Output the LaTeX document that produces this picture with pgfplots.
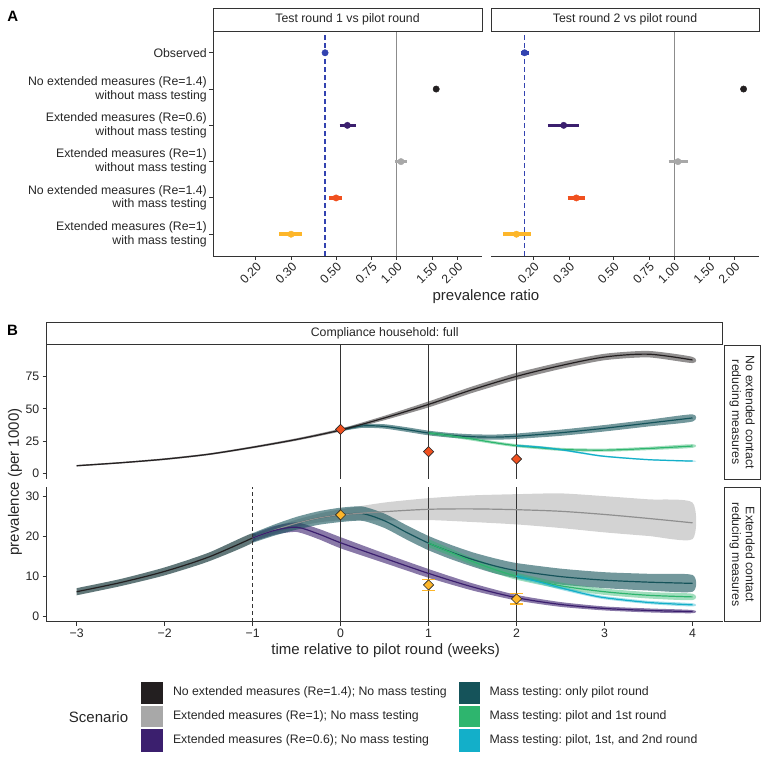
\documentclass[border=0pt]{standalone}
\usepackage{pgfplots}
\pgfplotsset{compat=1.18}
\usepackage{pgfplotstable}
\usepackage{fontspec}
\setmainfont{Liberation Sans}
\frenchspacing

\definecolor{cBlack}{HTML}{231F20}
\definecolor{cGray}{HTML}{A8A8A8}
\definecolor{cPurple}{HTML}{3B1F6E}
\definecolor{cTeal}{HTML}{15535A}
\definecolor{cGreen}{HTML}{2EB56E}
\definecolor{cCyan}{HTML}{13AFC9}
\definecolor{cObs}{HTML}{3343B0}
\definecolor{cRed}{HTML}{F0501F}
\definecolor{cYellow}{HTML}{FDB62A}
\definecolor{cAxis}{HTML}{333333}
\definecolor{cText}{HTML}{262626}

\newcommand\fs{\fontsize{12.3bp}{13.7bp}\selectfont}
\newcommand\ft{\fontsize{15bp}{17bp}\selectfont}

%% panel B centre lines
\pgfplotstableread{
t y
-3 5.9
-2.5 8.2
-2 11.0
-1.5 14.8
-1 20.2
-0.5 26.3
0 33.6
0.5 43.0
1 53.5
1.5 65.0
2 75.3
2.5 83.6
3 90.3
3.5 92.5
4 88.0
}\upBlack
\pgfplotstableread{
t y
0 33.6
0.25 36.8
0.5 36.4
0.75 34.0
1 31.3
1.25 29.5
1.5 28.4
1.75 28.1
2 28.8
2.5 31.5
3 35.0
3.5 39.0
4 43.0
}\upTeal
\pgfplotstableread{
t y
1 31.3
1.25 29.2
1.5 26.6
1.75 23.8
2 21.5
2.5 18.6
3 18.0
3.5 19.3
4 21.2
}\upGreen
\pgfplotstableread{
t y
2 21.5
2.25 20.4
2.5 18.4
2.75 15.7
3 13.2
3.5 10.6
4 9.5
}\upCyan
\pgfplotstableread{
t y
-3 6.1
-2.5 8.4
-2 11.2
-1.5 14.8
-1 19.6
}\loBlack
\pgfplotstableread{
t y
-1 19.6
-0.75 21.6
-0.5 23.3
-0.25 24.6
0 25.4
0.5 26.2
1 26.8
1.5 26.9
2 26.7
2.5 26.3
3 25.5
3.5 24.5
4 23.4
}\loGray
\pgfplotstableread{
t y
-1 19.6
-0.75 21.5
-0.5 22.3
-0.25 20.6
0 18.4
0.5 14.5
1 10.7
1.5 7.3
2 4.6
2.5 2.9
3 1.9
3.5 1.4
4 1.1
}\loPurple
\pgfplotstableread{
t y
-1 19.6
-0.75 21.6
-0.5 23.3
-0.25 24.6
0 25.4
0.25 25.7
0.5 23.9
0.75 21.0
1 18.3
1.25 16.1
1.5 14.2
1.75 12.6
2 11.4
2.5 9.9
3 9.0
3.5 8.5
4 8.2
}\loTeal
\pgfplotstableread{
t y
1 18.3
1.25 16.0
1.5 13.7
1.75 11.7
2 10.0
2.5 7.6
3 6.1
3.5 5.2
4 4.8
}\loGreen
\pgfplotstableread{
t y
2 10.0
2.25 8.6
2.5 7.1
2.75 5.7
3 4.6
3.5 3.4
4 2.8
}\loCyan

\pgfplotsset{
  gg/.style={
    scale only axis, anchor=south west,
    axis line style={-, line width=0.9bp, draw=cAxis},
    tick style={line width=0.9bp, draw=cAxis},
    minor tick style={draw=none},
    tick align=outside, major tick length=4bp,
    tick label style={font=\fs, text=cText},
    enlargelimits=false, tick pos=left,
  },
}
% band polygon: colour, opacity, upper edge forward then lower edge back
\newcommand\band[3]{%
  \addplot[fill=#1, fill opacity=#2, draw=none, smooth, tension=0.4, forget plot] coordinates {#3} -- cycle;
}
\newcommand\curve[2]{%
  \addplot[#2, line width=1.2bp, smooth] table[x=t,y=y]{#1};
}
\newcommand\row[5]{% y, lo, mid, hi, colour
  \addplot[#5, line width=3.5bp] coordinates {(#2,#1) (#4,#1)};
  \addplot[only marks, mark=*, mark size=3.2bp, #5] coordinates {(#3,#1)};
}

\begin{document}
\begin{tikzpicture}
\path[use as bounding box] (0bp,0bp) rectangle (768bp,768bp);

%% ---------------- panel A ----------------
\begin{axis}[gg, at={(213bp,512bp)}, width=269bp, height=225bp,
  xmode=log, xmin=0.1225, xmax=2.65, ymin=0.4, ymax=6.6,
  axis x line*=bottom, axis y line*=left,
  xtick={0.2,0.3,0.5,0.75,1,1.5,2},
  xticklabels={0.20,0.30,0.50,0.75,1.00,1.50,2.00},
  xticklabel style={rotate=45, anchor=north east, inner sep=1bp},
  ytick={1,2,3,4,5,6},
  yticklabels={{Extended measures (Re=1)\\with mass testing},
               {No extended measures (Re=1.4)\\with mass testing},
               {Extended measures (Re=1)\\without mass testing},
               {Extended measures (Re=0.6)\\without mass testing},
               {No extended measures (Re=1.4)\\without mass testing},
               {Observed}},
  yticklabel style={align=right, inner sep=2bp},
]
\addplot[black!45, line width=0.8bp] coordinates {(1,0.4) (1,6.6)};
\addplot[cObs, line width=1.3bp, dash pattern=on 4.5bp off 3.5bp] coordinates {(0.441,0.4) (0.441,6.6)};
\row{6}{0.430}{0.441}{0.452}{cObs}
\row{5}{1.55}{1.57}{1.59}{cBlack}
\row{4}{0.52}{0.569}{0.625}{cPurple}
\row{3}{0.98}{1.05}{1.13}{cGray}
\row{2}{0.46}{0.50}{0.534}{cRed}
\row{1}{0.261}{0.299}{0.337}{cYellow}
\end{axis}

\begin{axis}[gg, at={(491bp,512bp)}, width=268bp, height=225bp,
  xmode=log, xmin=0.1225, xmax=2.65, ymin=0.4, ymax=6.6,
  axis x line*=bottom, axis y line=none, ytick=\empty,
  xtick={0.2,0.3,0.5,0.75,1,1.5,2},
  xticklabels={0.20,0.30,0.50,0.75,1.00,1.50,2.00},
  xticklabel style={rotate=45, anchor=north east, inner sep=1bp},
]
\addplot[black!45, line width=0.8bp] coordinates {(1,0.4) (1,6.6)};
\addplot[cObs, line width=1.3bp, dash pattern=on 4.5bp off 3.5bp] coordinates {(0.180,0.4) (0.180,6.6)};
\row{6}{0.172}{0.180}{0.190}{cObs}
\row{5}{2.19}{2.22}{2.26}{cBlack}
\row{4}{0.235}{0.282}{0.337}{cPurple}
\row{3}{0.94}{1.046}{1.17}{cGray}
\row{2}{0.295}{0.326}{0.36}{cRed}
\row{1}{0.141}{0.164}{0.194}{cYellow}
\end{axis}

%% ---------------- panel B ----------------
\begin{axis}[gg, at={(46.7bp,289bp)}, width=676.6bp, height=135bp,
  xmin=-3.34, xmax=4.35, ymin=-4.4, ymax=100.4,
  axis x line*=bottom, x axis line style={draw=none}, axis y line*=left, xtick=\empty,
  ytick={0,25,50,75}, yticklabels={0,25,50,75},
]
\band{cBlack}{0.5}{(-3,6.5) (-2.5,8.8) (-2,11.7) (-1.5,15.5) (-1,21.0) (-0.5,27.2) (0,34.7) (0.5,44.7) (1,55.8) (1.5,67.5) (2,78.0) (2.5,86.2) (3,92.8) (3.5,95.0) (4,90.4)
  (4,85.6) (3.5,90.0) (3,87.8) (2.5,81.0) (2,72.6) (1.5,62.5) (1,51.2) (0.5,41.3) (0,32.5) (-0.5,25.4) (-1,19.4) (-1.5,14.1) (-2,10.3) (-2.5,7.6) (-3,5.3)}
\band{cTeal}{0.6}{(0,34.6) (0.25,38.3) (0.5,38.1) (0.75,35.8) (1,33.1) (1.25,31.3) (1.5,30.3) (1.75,30.1) (2,30.9) (2.5,33.9) (3,37.5) (3.5,41.6) (4,45.8)
  (4,40.2) (3.5,36.4) (3,32.5) (2.5,29.1) (2,26.7) (1.75,26.1) (1.5,26.5) (1.25,27.7) (1,29.5) (0.75,32.2) (0.5,34.7) (0.25,35.3) (0,32.6)}
\band{cGreen}{0.45}{(1,32.6) (1.25,30.5) (1.5,27.9) (1.75,25.0) (2,22.7) (2.5,19.8) (3,19.2) (3.5,20.6) (4,22.6)
  (4,19.8) (3.5,18.0) (3,16.8) (2.5,17.4) (2,20.3) (1.75,22.6) (1.5,25.3) (1.25,27.9) (1,30.0)}
\band{cCyan}{0.4}{(2,22.3) (2.25,21.2) (2.5,19.1) (2.75,16.4) (3,13.8) (3.5,11.1) (4,10.0)
  (4,9.0) (3.5,10.1) (3,12.6) (2.75,15.0) (2.5,17.7) (2.25,19.6) (2,20.7)}
\addplot[cAxis, line width=1.1bp] coordinates {(0,-4.4) (0,100.4)};
\addplot[cAxis, line width=1.1bp] coordinates {(1,-4.4) (1,100.4)};
\addplot[cAxis, line width=1.1bp] coordinates {(2,-4.4) (2,100.4)};
\curve{\upTeal}{cTeal}
\curve{\upGreen}{cGreen}
\curve{\upCyan}{cCyan}
\curve{\upBlack}{cBlack}
\addplot[only marks, mark=square*, mark size=3.6bp, mark options={rotate=45, fill=cRed, draw=black!85, line width=0.6bp}]
  coordinates {(0,34.1) (1,16.8) (2,11.1)};
\end{axis}

\begin{axis}[gg, at={(46.7bp,146.3bp)}, width=676.6bp, height=134.7bp,
  xmin=-3.34, xmax=4.35, ymin=-1.43, ymax=32.4,
  axis x line*=bottom, axis y line*=left,
  xtick={-3,-2,-1,0,1,2,3,4}, xticklabels={−3,−2,−1,0,1,2,3,4},
  ytick={0,10,20,30}, yticklabels={0,10,20,30},
]
\band{cTeal!55!black}{0.65}{(-3,7.0) (-2.5,9.3) (-2,12.2) (-1.5,15.9) (-1,20.8) (-1,18.4) (-1.5,13.7) (-2,10.2) (-2.5,7.5) (-3,5.2)}
\band{cGray}{0.5}{(-1,20.3) (-0.75,22.4) (-0.5,24.2) (-0.25,25.7) (0,26.8) (0.5,28.5) (1,29.6) (1.5,30.3) (2,30.6) (2.5,30.8) (3,30.1) (3.5,29.3) (4,28.5)
  (4,19.3) (3.5,20.1) (3,21.0) (2.5,22.1) (2,23.0) (1.5,23.6) (1,24.1) (0.5,24.0) (0,24.0) (-0.25,23.5) (-0.5,22.4) (-0.75,20.8) (-1,18.9)}
\band{cPurple}{0.6}{(-1,20.6) (-0.75,22.6) (-0.5,23.5) (-0.25,21.9) (0,19.8) (0.5,15.7) (1,11.8) (1.5,8.2) (2,5.3) (2.5,3.5) (3,2.4) (3.5,1.9) (4,1.5)
  (4,0.7) (3.5,0.9) (3,1.4) (2.5,2.3) (2,3.9) (1.5,6.4) (1,9.6) (0.5,13.3) (0,17.0) (-0.25,19.3) (-0.5,21.1) (-0.75,20.4) (-1,18.6)}
\band{cTeal}{0.6}{(-1,20.8) (-0.75,23.0) (-0.5,24.9) (-0.25,26.3) (0,27.2) (0.25,27.5) (0.5,25.7) (0.75,22.8) (1,20.1) (1.25,17.9) (1.5,16.0) (1.75,14.5) (2,13.3) (2.5,11.9) (3,11.0) (3.5,10.6) (4,10.3)
  (4,6.1) (3.5,6.4) (3,7.0) (2.5,7.9) (2,9.5) (1.75,10.7) (1.5,12.4) (1.25,14.3) (1,16.5) (0.75,19.2) (0.5,22.1) (0.25,23.9) (0,23.6) (-0.25,22.9) (-0.5,21.7) (-0.75,20.2) (-1,18.4)}
\band{cGreen}{0.45}{(1,19.3) (1.25,16.9) (1.5,14.6) (1.75,12.6) (2,10.9) (2.5,8.4) (3,6.9) (3.5,6.0) (4,5.6)
  (4,4.0) (3.5,4.4) (3,5.3) (2.5,6.8) (2,9.1) (1.75,10.8) (1.5,12.8) (1.25,15.1) (1,17.3)}
\band{cCyan}{0.4}{(2,10.6) (2.25,9.1) (2.5,7.6) (2.75,6.1) (3,5.0) (3.5,3.8) (4,3.2)
  (4,2.4) (3.5,3.0) (3,4.2) (2.75,5.3) (2.5,6.6) (2.25,8.1) (2,9.4)}
\addplot[cAxis, line width=1.1bp, dash pattern=on 4bp off 3bp] coordinates {(-1,-1.43) (-1,32.4)};
\addplot[cAxis, line width=1.1bp] coordinates {(0,-1.43) (0,32.4)};
\addplot[cAxis, line width=1.1bp] coordinates {(1,-1.43) (1,32.4)};
\addplot[cAxis, line width=1.1bp] coordinates {(2,-1.43) (2,32.4)};
\curve{\loTeal}{cTeal}
\curve{\loGreen}{cGreen}
\curve{\loCyan}{cCyan}
\curve{\loBlack}{cBlack}
\curve{\loGray}{cGray!85!black}
\curve{\loPurple}{cPurple}
%% observed error bars
\addplot[cYellow, line width=1.2bp] coordinates {(1,6.45) (1,9.15)};
\addplot[cYellow, line width=1.2bp] coordinates {(0.925,6.45) (1.075,6.45)};
\addplot[cYellow, line width=1.2bp] coordinates {(0.925,9.15) (1.075,9.15)};
\addplot[cYellow, line width=1.2bp] coordinates {(2,3.0) (2,5.7)};
\addplot[cYellow, line width=1.2bp] coordinates {(1.925,3.0) (2.075,3.0)};
\addplot[cYellow, line width=1.2bp] coordinates {(1.925,5.7) (2.075,5.7)};
\addplot[only marks, mark=square*, mark size=3.6bp, mark options={rotate=45, fill=cYellow, draw=black!85, line width=0.6bp}]
  coordinates {(0,25.4) (1,7.8) (2,4.3)};
\end{axis}

\begin{scope}[x=1bp,y=1bp]
\node[font=\fontsize{15bp}{17bp}\selectfont\bfseries] at (12.8,751.3) {A};
\draw[fill=white, draw=cAxis, line width=0.9bp] (213,737) rectangle (482,760);
\node[font=\fs, text=cText] at (347.5,748.5) {Test round 1 vs pilot round};
\draw[fill=white, draw=cAxis, line width=0.9bp] (491,737) rectangle (759,760);
\node[font=\fs, text=cText] at (625,748.5) {Test round 2 vs pilot round};
\node[font=\ft, text=cText] at (486,471) {prevalence ratio};

\node[font=\fontsize{15bp}{17bp}\selectfont\bfseries] at (12.5,437.5) {B};
\draw[fill=white, draw=cAxis, line width=0.9bp] (46.7,424) rectangle (722.7,446);
\node[font=\fs, text=cText] at (384.7,435) {Compliance household: full};
\draw[fill=white, draw=cAxis, line width=0.9bp] (724.3,289) rectangle (760,422.3);
\node[font=\fs, text=cText, rotate=-90, align=center] at (742.2,355.7) {No extended contact\\reducing measures};
\draw[fill=white, draw=cAxis, line width=0.9bp] (724.3,146.3) rectangle (760,280.7);
\node[font=\fs, text=cText, rotate=-90, align=center] at (742.2,213.5) {Extended contact\\reducing measures};

\node[font=\ft, text=cText, rotate=90] at (15,286) {prevalence (per 1000)};
\node[font=\ft, text=cText] at (385.6,117) {time relative to pilot round (weeks)};

%% legend
\node[font=\ft, text=cText, anchor=east] at (131.7,51.3) {Scenario};
\fill[cBlack] (141,64.2) rectangle (163,86.3);
\fill[cGray] (141,40.5) rectangle (163,62.4);
\fill[cPurple] (141,16.5) rectangle (163,38.8);
\fill[cTeal] (458.5,64.2) rectangle (480,86.3);
\fill[cGreen] (458.5,40.5) rectangle (480,62.4);
\fill[cCyan] (458.5,16.5) rectangle (480,38.8);
\node[font=\fs, text=cText, anchor=west] at (169.5,75.2) {No extended measures (Re=1.4); No mass testing};
\node[font=\fs, text=cText, anchor=west] at (169.5,51.4) {Extended measures (Re=1); No mass testing};
\node[font=\fs, text=cText, anchor=west] at (169.5,27.7) {Extended measures (Re=0.6); No mass testing};
\node[font=\fs, text=cText, anchor=west] at (486,75.2) {Mass testing: only pilot round};
\node[font=\fs, text=cText, anchor=west] at (486,51.4) {Mass testing: pilot and 1st round};
\node[font=\fs, text=cText, anchor=west] at (486,27.7) {Mass testing: pilot, 1st, and 2nd round};
\end{scope}
\end{tikzpicture}
\end{document}
